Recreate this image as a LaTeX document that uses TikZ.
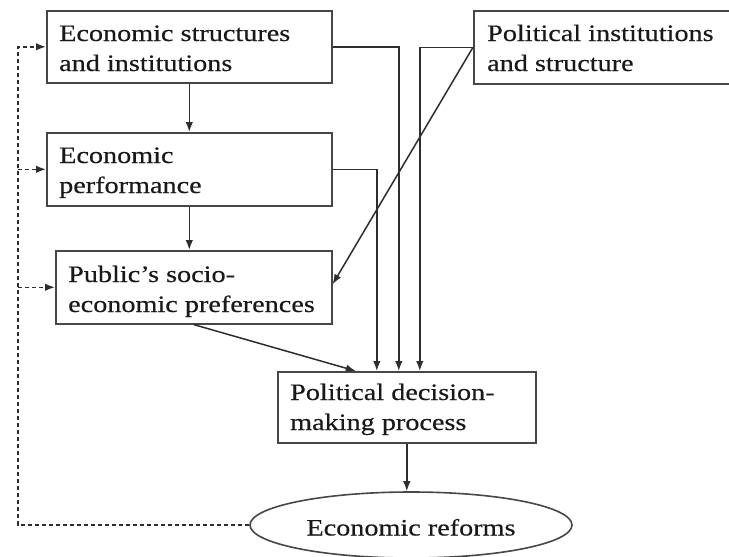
\documentclass[tikz,border=0pt]{standalone}
\usepackage{fontspec}
\setmainfont[FakeStretch=1.2,FakeBold=0.4]{Liberation Serif}
\usetikzlibrary{arrows.meta,shapes.geometric}
\begin{document}
\begin{tikzpicture}[x=1pt,y=-1pt,
  box/.style={draw=black!72, line width=1.6pt, rectangle, inner sep=0pt, anchor=north west},
  txt/.style={anchor=base west, inner sep=0pt, align=left, font=\fontsize{23.5}{30}\selectfont, text=black!90},
  conn/.style={draw=black!82, line width=1.5pt, -{Latex[length=10pt,width=7.5pt]}},
  fb/.style={conn, dash pattern=on 4pt off 3pt}]
\useasboundingbox (0,0) rectangle (729,557);
\clip (0,0) rectangle (729,557);
\fill[white] (0,0) rectangle (729,557);
% boxes
\node[box, minimum width=285pt, minimum height=72pt] (b1) at (46,10) {};
\node[box, minimum width=285pt, minimum height=73pt] (b2) at (46,132) {};
\node[box, minimum width=276pt, minimum height=73pt] (b3) at (55,250) {};
\node[box, minimum width=290pt, minimum height=73pt] (b4) at (473,10) {};
\node[box, minimum width=258pt, minimum height=71pt] (b5) at (277,371) {};
\node[draw=black!72, line width=1.6pt, ellipse, inner sep=0pt, minimum width=322pt, minimum height=66pt,
      text height=21pt, text depth=0pt,
      font=\fontsize{23.5}{30}\selectfont, text=black!90] (e) at (411,525) {Economic reforms};
% texts (anchored at the baseline of the last line)
\node[txt] (t1) at (59,71) {Economic structures\\and institutions};
\node[txt] (t2) at (59,193) {Economic\\performance};
\node[txt] (t3) at (68,312) {Public’s socio-\\economic preferences};
\node[txt] (t4) at (487,71) {Political institutions\\and structure};
\node[txt] (t5) at (290,430) {Political decision-\\making process};
% connectors
\draw[conn] (b1.south) -- (b2.north);
\draw[conn] (b2.south) -- (b2.south |- b3.north);
\draw[conn] (b1.east) -| ([xshift=-8pt]b5.north);
\draw[conn] (b2.east) -| ([xshift=-30pt]b5.north);
\draw[conn] (b4.west) -| ([xshift=13pt]b5.north);
\draw[conn] (b4.west) -- ([yshift=3pt]b3.east);
\draw[conn] (b3.south) -- ([xshift=-51pt]b5.north);
\draw[conn] (b5.south) -- (b5.south |- e.north);
% feedback
\coordinate (fl) at (18,525);
\draw[fb] (e.west) -- (fl) -- (fl |- b1.west) -- (b1.west);
\draw[fb] (fl |- b2.west) -- (b2.west);
\draw[fb] (fl |- b3.west) -- (b3.west);
\end{tikzpicture}
\end{document}
